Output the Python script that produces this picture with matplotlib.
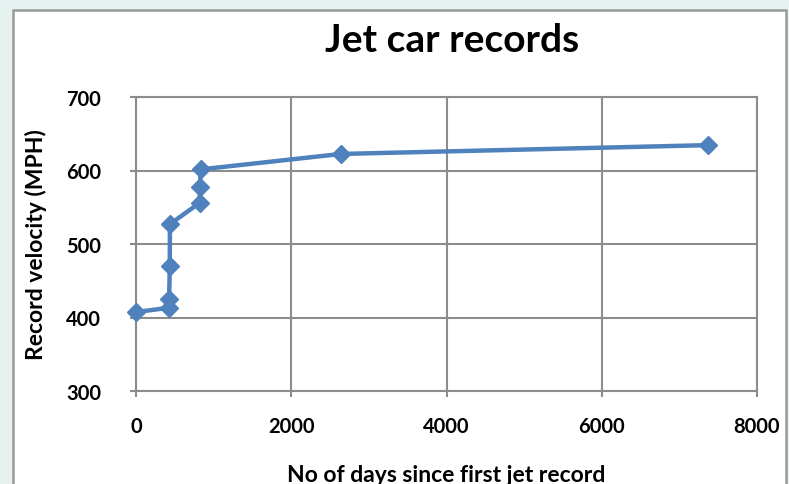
import matplotlib
matplotlib.use("Agg")
import matplotlib.pyplot as plt
from matplotlib.patches import Rectangle

days = [0, 424, 427, 435, 437, 820, 825, 833, 2636, 7365]
mph = [407.4, 413.2, 425.0, 469.5, 527.0, 556.0, 577.5, 601.5, 622.5, 634.5]
x_ticks = [0, 2000, 4000, 6000, 8000]
y_ticks = [300, 400, 500, 600, 700]

BG = "#E5F2EF"
GRID = "#8C8C8C"
LINE = "#4F81BD"
FONT = ["Lato", "DejaVu Sans"]

fig = plt.figure(figsize=(7.89, 4.85), dpi=100)
fig.patch.set_facecolor(BG)
fig.patches.append(Rectangle((13 / 789, -0.05), 773 / 789, 1.05 - 11 / 485,
                             transform=fig.transFigure, facecolor="white",
                             edgecolor="#9A9A9A", linewidth=1.8, zorder=-1))

ax = fig.add_axes([136 / 789, 1 - 392 / 485, 621 / 789, 294 / 485])
ax.set_zorder(1)
ax.patch.set_alpha(0)
ax.plot(days, mph, color=LINE, linewidth=3.2, marker="D", markersize=9.5,
        markeredgecolor=LINE, markerfacecolor=LINE, clip_on=False, zorder=3)
ax.set_xlim(0, 8000)
ax.set_ylim(300, 700)
ax.set_xticks(x_ticks)
ax.set_yticks(y_ticks)
ax.set_xticklabels([str(t) for t in x_ticks], family=FONT, fontweight="bold", fontsize=14.5)
ax.set_yticklabels([str(t) for t in y_ticks], family=FONT, fontweight="bold", fontsize=14.5)
ax.tick_params(axis="x", length=4, width=1.5, color=GRID, pad=14)
ax.tick_params(axis="y", length=4, width=1.5, color=GRID, pad=21)
ax.grid(True, color=GRID, linewidth=1.5)
ax.set_axisbelow(True)
for s in ax.spines.values():
    s.set_color(GRID)
    s.set_linewidth(1.5)

ax.set_xlabel("No of days since first jet record", family=FONT, fontsize=16.5,
              fontweight="bold", labelpad=20)
ax.set_ylabel("Record velocity (MPH)", family=FONT, fontsize=16.5,
              fontweight="bold", labelpad=14)
fig.text(452 / 789, 1 - 40 / 485, "Jet car records", family=FONT, fontsize=28,
         fontweight="bold", ha="center", va="center")

fig.savefig("out.png", dpi=100, facecolor=BG)
